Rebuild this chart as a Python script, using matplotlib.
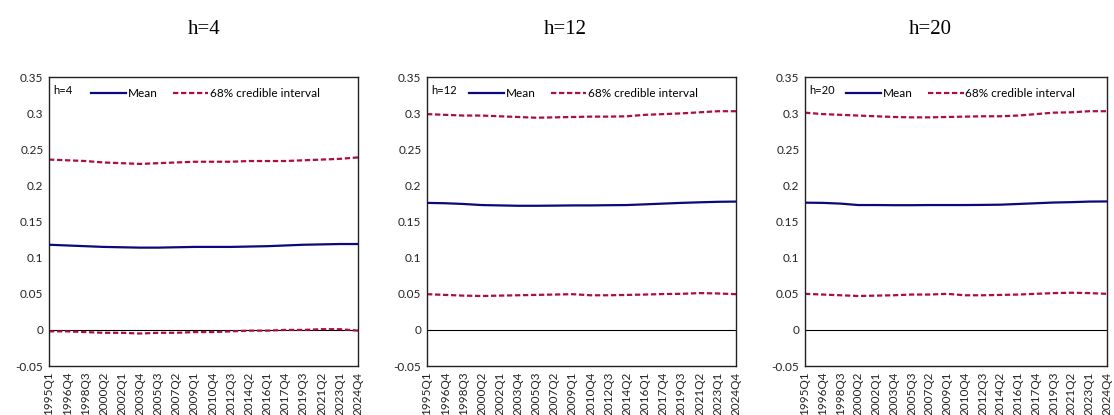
import matplotlib.pyplot as plt
from matplotlib import rc
rc('font', family='Lato', size=9)

# quarterly sample, labels every 7 quarters
all_quarters = ['%dQ%d' % (yr, q) for yr in range(1995, 2025) for q in range(1, 5)]
tick_labels = ['1995Q1', '1996Q4', '1998Q3', '2000Q2', '2002Q1', '2003Q4', '2005Q3', '2007Q2', '2009Q1',
               '2010Q4', '2012Q3', '2014Q2', '2016Q1', '2017Q4', '2019Q3', '2021Q2', '2023Q1', '2024Q4']

horizons = ['h=4', 'h=12', 'h=20']

# values at the labelled quarters
mean_h4 = [0.118, 0.117, 0.116, 0.115, 0.1145, 0.114, 0.114, 0.1145, 0.115,
           0.115, 0.115, 0.1155, 0.116, 0.117, 0.118, 0.1185, 0.119, 0.119]
upper_h4 = [0.236, 0.235, 0.234, 0.232, 0.231, 0.230, 0.231, 0.232, 0.233,
            0.233, 0.233, 0.234, 0.234, 0.234, 0.235, 0.236, 0.237, 0.239]
lower_h4 = [-0.002, -0.002, -0.003, -0.004, -0.004, -0.005, -0.004, -0.004, -0.003,
            -0.003, -0.002, -0.001, -0.001, 0.000, 0.000, 0.001, 0.001, -0.001]

mean_h12 = [0.176, 0.1755, 0.1745, 0.173, 0.1725, 0.172, 0.172, 0.1722, 0.1725,
            0.1725, 0.1728, 0.173, 0.174, 0.175, 0.176, 0.1768, 0.1775, 0.1778]
upper_h12 = [0.299, 0.298, 0.297, 0.297, 0.296, 0.295, 0.294, 0.2945, 0.295,
             0.2955, 0.2955, 0.296, 0.298, 0.299, 0.300, 0.3015, 0.303, 0.303]
lower_h12 = [0.0495, 0.0485, 0.0475, 0.047, 0.0475, 0.048, 0.0485, 0.049, 0.0495,
             0.048, 0.048, 0.0485, 0.049, 0.0497, 0.050, 0.051, 0.0505, 0.0495]

mean_h20 = [0.1763, 0.176, 0.175, 0.173, 0.173, 0.1728, 0.1728, 0.173, 0.173,
            0.173, 0.1732, 0.1735, 0.1745, 0.1755, 0.1765, 0.177, 0.1778, 0.178]
upper_h20 = [0.301, 0.299, 0.298, 0.297, 0.296, 0.295, 0.2945, 0.2945, 0.295,
             0.2955, 0.296, 0.296, 0.297, 0.299, 0.301, 0.3015, 0.303, 0.303]
lower_h20 = [0.050, 0.049, 0.048, 0.047, 0.0475, 0.048, 0.049, 0.049, 0.050,
             0.048, 0.048, 0.0485, 0.049, 0.050, 0.051, 0.0515, 0.051, 0.050]

y_ticks = [-0.05, 0, 0.05, 0.1, 0.15, 0.2, 0.25, 0.3, 0.35]
y_tick_labels = ['-0.05', '0', '0.05', '0.1', '0.15', '0.2', '0.25', '0.3', '0.35']

MEAN_COLOR = '#0a0a7a'
BAND_COLOR = '#a8103e'

panels = [(mean_h4, upper_h4, lower_h4), (mean_h12, upper_h12, lower_h12), (mean_h20, upper_h20, lower_h20)]
lefts = [49, 427, 805]
widths = [309, 309, 302]
title_x = [204, 565, 930]

W, H = 1114, 415
fig = plt.figure(figsize=(W / 100, H / 100), dpi=100)

x = [all_quarters.index(t) for t in tick_labels]

for i, (mean, upper, lower) in enumerate(panels):
    ax = fig.add_axes([lefts[i] / W, 49 / H, widths[i] / W, 288.7 / H])
    ax.axhline(0, color='black', lw=0.8, zorder=1)
    ax.plot(x, mean, color=MEAN_COLOR, lw=1.6, label='Mean', zorder=3)
    ax.plot(x, upper, color=BAND_COLOR, lw=1.6, dashes=(2.4, 1.2), label='68% credible interval', zorder=2)
    ax.plot(x, lower, color=BAND_COLOR, lw=1.6, dashes=(2.4, 1.2), zorder=2)

    ax.set_xlim(0, len(all_quarters) - 1)
    ax.set_ylim(-0.05, 0.35)
    ax.set_xticks(x)
    ax.set_xticklabels(tick_labels, rotation=90, fontsize=8.5, color='#222222')
    ax.set_yticks(y_ticks)
    ax.set_yticklabels(y_tick_labels, fontsize=8.5, color='#222222')
    ax.tick_params(length=0, pad=4)
    for s in ax.spines.values():
        s.set_linewidth(1.0)
        s.set_color('#222222')

    ax.text(0.013, 0.975, horizons[i], transform=ax.transAxes, fontsize=8, va='top', ha='left')
    ax.legend(loc='upper left', bbox_to_anchor=(0.1, 1.0), ncol=2, frameon=False, fontsize=8.5,
              handlelength=3.0, handletextpad=0.15, columnspacing=1.3)

    fig.text(title_x[i] / W, 1 - 30 / H, horizons[i], ha='center', va='center',
             family='Liberation Serif', fontsize=15)

fig.savefig('out.png', dpi=100)
